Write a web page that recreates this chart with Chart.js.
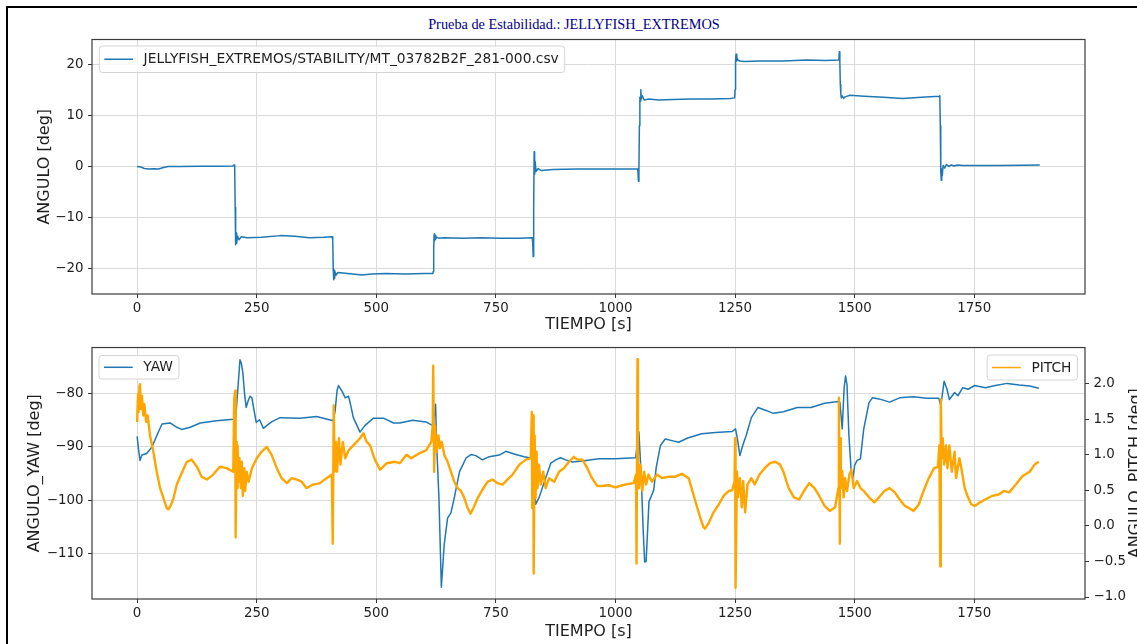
<!DOCTYPE html>
<html><head><meta charset="utf-8">
<script src="https://cdn.jsdelivr.net/npm/chart.js@4.4.0/dist/chart.umd.min.js"></script>
<style>
html,body{margin:0;padding:0;background:#fff;width:1137px;height:644px;overflow:hidden;position:relative;}
#frame{position:absolute;left:6px;top:6px;width:1200px;height:700px;border-left:2px solid #000;border-top:2px solid #000;box-sizing:border-box;}
#title{position:absolute;left:0;width:1148px;top:16px;line-height:17px;text-align:center;font-family:"Liberation Serif","DejaVu Serif",serif;font-size:14.3px;color:#00008b;white-space:nowrap;}
#c1{position:absolute;left:0;top:0;}
#c2{position:absolute;left:0;top:335px;}
</style></head>
<body>
<div id="frame"></div>
<div id="title">Prueba de Estabilidad.: JELLYFISH_EXTREMOS</div>
<canvas id="c1" width="1137" height="335"></canvas>
<canvas id="c2" width="1137" height="309"></canvas>
<script>
// ---------- DATA ----------
const timeTicks = [0, 250, 500, 750, 1000, 1250, 1500, 1750];
const timeTickLabels = ['0', '250', '500', '750', '1000', '1250', '1500', '1750'];
const angleTicks = [-20, -10, 0, 10, 20];
const angleTickLabels = ['\u221220', '\u221210', '0', '10', '20'];
const yawTicks = [-110, -100, -90, -80];
const yawTickLabels = ['\u2212110', '\u2212100', '\u221290', '\u221280'];
const pitchTicks = [-1.0, -0.5, 0.0, 0.5, 1.0, 1.5, 2.0];
const pitchTickLabels = ['\u22121.0', '\u22120.5', '0.0', '0.5', '1.0', '1.5', '2.0'];

const seriesLabel = 'JELLYFISH_EXTREMOS/STABILITY/MT_03782B2F_281-000.csv';

const angleT = [0,8,15,25,35,45,55,65,90,130,170,200,203,
 204,205,206,207,208,210,213,218,230,260,300,330,360,390,408,
 409,410,411,412,413,414,416,420,430,450,470,490,520,560,600,618,
 619,620,621,622,623,624,626,630,640,680,720,760,800,826,
 827,828,829,830,831,832,834,838,845,870,920,970,1020,1046,
 1047,1048,1049,1050,1051,1052,1053,1054,1056,1060,1070,1090,1120,1160,1200,1240,1249,
 1250,1251,1252,1253,1254,1256,1260,1270,1300,1350,1400,1440,1466,
 1467,1468,1469,1470,1471,1472,1474,1477,1480,1490,1520,1560,1600,1640,1677,
 1678,1679,1680,1681,1682,1683,1685,1688,1692,1697,1702,1708,1715,1725,1760,1800,1850,1887];
const angleV = [0.0,-0.1,-0.4,-0.5,-0.45,-0.5,-0.2,0.0,0.0,0.05,0.05,0.1,0.3,
 0.0,-8,-15.3,-13.0,-15.0,-13.6,-14.3,-13.7,-13.9,-13.8,-13.5,-13.6,-13.9,-13.8,-13.7,
 -14.5,-20,-22.1,-20.3,-21.8,-20.6,-21.2,-20.7,-20.8,-21.0,-21.2,-21.0,-20.9,-21.0,-20.9,-20.9,
 -20.5,-16,-13.2,-14.5,-13.5,-14.2,-13.8,-14.0,-13.9,-14.0,-13.9,-14.0,-14.0,-13.9,
 -15,-17.6,-8,2.9,-1.5,1.0,-1.0,-0.4,-0.8,-0.6,-0.5,-0.5,-0.5,-0.5,
 -1.0,-2.9,-0.5,8,13.5,12.8,15.0,13.2,13.8,13.0,13.2,13.0,13.1,13.2,13.2,13.3,13.4,
 15,20.5,21.9,20.6,21.3,20.8,20.6,20.5,20.6,20.6,20.8,20.7,20.8,
 21,22.4,20.5,16,14.2,13.4,13.8,13.3,13.6,13.9,13.7,13.5,13.3,13.5,13.7,
 13.8,8,-1,-2.7,-0.5,-1.8,0.2,-0.3,0.4,0.0,0.3,0.1,0.3,0.2,0.2,0.2,0.25,0.3];

const yawT = [0,3,6,10,20,31,41,52,69,83,93,111,132,166,201,206,210,215,218,221,225,228,232,236,240,244,249,256,264,271,281,299,341,375,410,414,418,421,425,428,435,442,447,452,466,476,494,515,536,549,576,604,618,622,624,626,631,636,642,649,656,663,674,688,698,708,722,736,757,771,788,809,826,830,833,840,854,865,875,885,896,910,931,965,1000,1042,1049,1054,1058,1061,1064,1067,1070,1076,1080,1085,1094,1104,1118,1132,1151,1180,1209,1244,1251,1255,1260,1266,1273,1284,1298,1316,1330,1351,1380,1409,1437,1466,1469,1474,1478,1481,1484,1488,1493,1496,1500,1505,1512,1519,1530,1537,1551,1573,1594,1623,1651,1676,1680,1687,1693,1698,1709,1716,1726,1737,1751,1773,1794,1819,1844,1866,1885];
const yawV = [-88.1,-90.5,-92.6,-91.6,-91.3,-90.1,-88.0,-85.8,-85.6,-86.4,-86.8,-86.4,-85.6,-85.2,-84.9,-84.8,-80,-73.8,-74.5,-76.2,-80.5,-82.7,-81.5,-80.6,-80.9,-83,-85.5,-85.0,-86.6,-86.1,-85.4,-84.6,-84.7,-84.4,-85.2,-83.3,-79.5,-78.6,-79.2,-79.6,-80.9,-80.6,-82.5,-84.6,-87.3,-86.1,-84.7,-84.7,-85.6,-85.6,-85.1,-85.4,-86.1,-84,-82.1,-89.2,-99.7,-116.3,-108.3,-103.4,-102.4,-99.6,-94.7,-92.1,-91.5,-91.7,-92.5,-91.9,-91.6,-90.9,-91.4,-91.9,-92.2,-96,-100.8,-99.6,-95.9,-93.1,-92.5,-92.1,-92.5,-92.9,-92.7,-92.3,-92.3,-92.1,-87.3,-96,-105.8,-111.6,-111.5,-106,-100.3,-99,-98.1,-94,-89.8,-88.6,-88.9,-89.2,-88.4,-87.6,-87.4,-87.2,-86.7,-88.6,-91.7,-89.8,-88.0,-84.6,-82.7,-83.3,-83.8,-83.5,-82.7,-82.7,-81.9,-81.6,-81.7,-86.7,-79,-76.8,-78.5,-88,-95,-96,-93.5,-92.6,-92.3,-86.7,-81.8,-80.9,-81.1,-81.7,-80.9,-80.7,-81.0,-81.0,-82.4,-77.8,-79.3,-81.2,-79.9,-80.5,-79.0,-79.3,-78.6,-79.0,-78.6,-78.2,-78.5,-78.7,-79.1];

const pitchT = [0,2,3,5,6,8,10,13,15,19,22,27,34,41,48,55,62,65,70,76,83,93,104,114,125,135,146,159,173,187,201,203,205,206,208,209,210,212,214,217,219,221,224,226,229,233,240,250,260,271,281,292,302,313,323,334,344,354,368,382,396,407,409,411,413,416,418,422,425,430,435,442,452,466,473,480,487,497,508,522,539,549,563,573,590,604,615,618,619,621,623,626,630,633,637,642,649,656,663,670,677,684,691,697,703,712,722,733,743,753,764,774,785,799,813,823,825,826,828,829,831,833,835,837,840,844,849,854,861,872,882,892,903,913,920,931,941,951,962,972,986,1000,1014,1028,1038,1043,1044,1046,1047,1049,1052,1056,1060,1064,1069,1076,1087,1097,1111,1125,1139,1153,1159,1169,1176,1184,1187,1194,1205,1216,1226,1237,1244,1249,1250,1251,1254,1256,1260,1264,1267,1271,1276,1284,1291,1301,1312,1323,1334,1344,1351,1362,1373,1384,1394,1405,1416,1426,1437,1448,1459,1466,1467,1469,1470,1471,1474,1477,1480,1484,1489,1493,1498,1505,1512,1519,1530,1541,1551,1562,1573,1584,1594,1605,1616,1623,1634,1644,1655,1666,1674,1677,1679,1680,1682,1684,1687,1691,1694,1698,1703,1709,1712,1719,1724,1730,1737,1744,1751,1762,1773,1787,1801,1812,1823,1837,1851,1866,1876,1885];
const pitchV = [1.46,1.85,1.6,1.97,1.99,1.64,1.83,1.55,1.71,1.46,1.55,1.27,1.04,0.76,0.53,0.39,0.25,0.23,0.28,0.39,0.58,0.74,0.9,0.93,0.83,0.69,0.65,0.72,0.83,0.81,0.76,1.78,1.9,-0.16,1.18,0.53,1.13,0.62,0.95,0.53,0.9,0.42,0.81,0.49,0.76,0.62,0.81,0.95,1.04,1.11,1.0,0.81,0.67,0.6,0.67,0.65,0.62,0.53,0.58,0.6,0.67,0.72,-0.25,1.69,0.76,1.18,0.76,1.23,0.86,1.18,0.95,1.06,1.13,1.23,1.3,1.18,1.13,0.93,0.79,0.88,0.9,0.88,1.0,0.95,1.02,1.06,1.18,1.41,2.25,0.76,1.41,1.04,1.27,1.09,1.18,1.0,0.9,0.76,0.62,0.53,0.49,0.39,0.25,0.17,0.25,0.39,0.51,0.62,0.65,0.6,0.58,0.65,0.72,0.86,0.93,0.95,1.6,0.25,1.55,-0.67,1.27,0.39,1.04,0.53,0.86,0.58,0.76,0.53,0.67,0.62,0.76,0.81,0.9,0.97,0.93,0.93,0.81,0.67,0.56,0.56,0.57,0.54,0.57,0.59,0.6,0.72,-0.53,2.34,0.95,0.53,0.86,0.49,0.76,0.58,0.72,0.62,0.72,0.67,0.69,0.69,0.73,0.67,0.53,0.3,0.14,-0.02,-0.04,0.03,0.19,0.3,0.42,0.49,0.5,0.63,1.23,-0.87,0.76,0.4,0.67,0.26,0.63,0.19,0.58,0.67,0.58,0.72,0.81,0.88,0.9,0.86,0.76,0.53,0.4,0.37,0.49,0.6,0.53,0.42,0.28,0.21,0.26,0.53,1.8,-0.25,1.23,0.53,0.77,0.4,0.67,0.49,0.72,0.79,0.53,0.63,0.53,0.49,0.4,0.33,0.4,0.49,0.53,0.47,0.37,0.28,0.24,0.21,0.3,0.49,0.67,0.81,0.83,1.13,-0.57,1.78,0.95,1.23,0.86,1.13,0.81,1.13,0.76,1.04,0.67,0.95,0.77,0.53,0.4,0.3,0.28,0.33,0.37,0.42,0.44,0.49,0.47,0.58,0.7,0.76,0.86,0.9];

// ---------- RENDER ----------
const FONT = '"DejaVu Sans", sans-serif';
const TXT = '#1e1e1e';
const pts = (t, v) => t.map((x, i) => ({x: x, y: v[i]}));
const X_MIN = -94.3, X_MAX = 1981.5;

const decor = {
  id: 'decor',
  afterDraw(chart, args, opts) {
    const ctx = chart.ctx, ca = chart.chartArea;
    ctx.save();
    ctx.strokeStyle = '#3a3a3a';
    ctx.lineWidth = 1.2;
    ctx.strokeRect(ca.left, ca.top, ca.right - ca.left, ca.bottom - ca.top);
    (opts.items || []).forEach(it => {
      const ds = chart.data.datasets[it.index];
      ctx.font = '13.8px ' + FONT;
      const tw = ctx.measureText(ds.label).width;
      const padL = 5, lineLen = 28.7, gap = 10.6, padR = 6;
      const w = padL + lineLen + gap + tw + padR;
      const h = it.h || 25;
      const x = it.side === 'right' ? ca.right - it.dx - w : ca.left + it.dx;
      const y = ca.top + it.dy;
      const r = 3;
      ctx.beginPath();
      ctx.moveTo(x + r, y); ctx.lineTo(x + w - r, y); ctx.arcTo(x + w, y, x + w, y + r, r);
      ctx.lineTo(x + w, y + h - r); ctx.arcTo(x + w, y + h, x + w - r, y + h, r);
      ctx.lineTo(x + r, y + h); ctx.arcTo(x, y + h, x, y + h - r, r);
      ctx.lineTo(x, y + r); ctx.arcTo(x, y, x + r, y, r); ctx.closePath();
      ctx.fillStyle = 'rgba(255,255,255,0.8)'; ctx.fill();
      ctx.strokeStyle = '#d4d4d4'; ctx.lineWidth = 1; ctx.stroke();
      ctx.beginPath();
      ctx.strokeStyle = ds.borderColor; ctx.lineWidth = 1.5;
      ctx.moveTo(x + padL, y + h / 2); ctx.lineTo(x + padL + lineLen, y + h / 2); ctx.stroke();
      ctx.fillStyle = TXT; ctx.textBaseline = 'middle'; ctx.textAlign = 'left';
      ctx.fillText(ds.label, x + padL + lineLen + gap, y + h / 2 + 0.5);
    });
    if (opts.rightTitle) {
      ctx.font = '16px ' + FONT;
      ctx.fillStyle = TXT;
      ctx.translate(opts.rightTitleX, (ca.top + ca.bottom) / 2);
      ctx.rotate(-Math.PI / 2);
      ctx.textAlign = 'center'; ctx.textBaseline = 'middle';
      ctx.fillText(opts.rightTitle, 0, 0);
    }
    ctx.restore();
  }
};

function xScale(h, titlePad) {
  return {
    type: 'linear', position: 'bottom', min: X_MIN, max: X_MAX,
    afterBuildTicks: s => { s.ticks = timeTicks.map(v => ({value: v})); },
    afterFit: s => { s.height = h; },
    ticks: {font: {family: FONT, size: 13.4}, color: TXT, padding: 2.5, maxRotation: 0, autoSkip: false,
            callback: (v, i) => timeTickLabels[i]},
    grid: {color: '#dadada', lineWidth: 1, tickLength: 4, tickColor: '#333', tickWidth: 1},
    border: {display: false},
    title: {display: true, text: 'TIEMPO [s]', font: {family: FONT, size: 16}, color: TXT, padding: {top: 0, bottom: titlePad}}
  };
}
function yScale(pos, min, max, ticks, labels, w, title, titlePad, grid) {
  return {
    type: 'linear', position: pos, min: min, max: max,
    afterBuildTicks: s => { s.ticks = ticks.map(v => ({value: v})); },
    afterFit: s => { s.width = w; },
    ticks: {font: {family: FONT, size: 13.4}, color: TXT, padding: 4.5, autoSkip: false,
            callback: (v, i) => labels[i]},
    grid: {color: '#dadada', lineWidth: 1, tickLength: 4, tickColor: '#333', tickWidth: 1, drawOnChartArea: grid},
    border: {display: false},
    title: {display: !!title, text: title || '', font: {family: FONT, size: 16}, color: TXT, padding: {top: titlePad, bottom: 0}}
  };
}

const common = {
  responsive: false, animation: false, events: [],
  elements: {point: {radius: 0}, line: {tension: 0, borderJoinStyle: 'round'}},
};

new Chart(document.getElementById('c1'), {
  type: 'line',
  data: {datasets: [{label: seriesLabel, data: pts(angleT, angleV), borderColor: '#1f77b4', borderWidth: 1.5, yAxisID: 'y'}]},
  options: Object.assign({}, common, {
    layout: {padding: {left: 0, right: 52, top: 39.5, bottom: 0}},
    scales: {
      x: xScale(41, 0.8),
      y: yScale('left', -24.9, 24.8, angleTicks, angleTickLabels, 92, 'ANGULO [deg]', 35, true)
    },
    plugins: {legend: {display: false}, tooltip: {enabled: false},
      decor: {items: [{index: 0, side: 'left', dx: 7.3, dy: 6.5, h: 26.5}]}}
  }),
  plugins: [decor]
});

new Chart(document.getElementById('c2'), {
  type: 'line',
  data: {datasets: [
    {label: 'YAW', data: pts(yawT, yawV), borderColor: '#1f77b4', borderWidth: 1.5, yAxisID: 'y', order: 1},
    {label: 'PITCH', data: pts(pitchT, pitchV), borderColor: '#ffa500', borderWidth: 2.4, yAxisID: 'y1', order: 0}
  ]},
  options: Object.assign({}, common, {
    layout: {padding: {left: 0, right: 0, top: 9.7, bottom: 0}},
    scales: {
      x: xScale(45, 3.0),
      y: yScale('left', -118.5, -71.5, yawTicks, yawTickLabels, 92, 'ANGULO_YAW [deg]', 25.6, true),
      y1: yScale('right', -1.028, 2.505, pitchTicks, pitchTickLabels, 52, '', 0, false)
    },
    plugins: {legend: {display: false}, tooltip: {enabled: false},
      decor: {items: [{index: 0, side: 'left', dx: 7, dy: 8, h: 23.5}, {index: 1, side: 'right', dx: 7.6, dy: 7.5, h: 25}],
              rightTitle: 'ANGULO_PITCH [deg]', rightTitleX: 1136}}
  }),
  plugins: [decor]
});
</script>
</body></html>
